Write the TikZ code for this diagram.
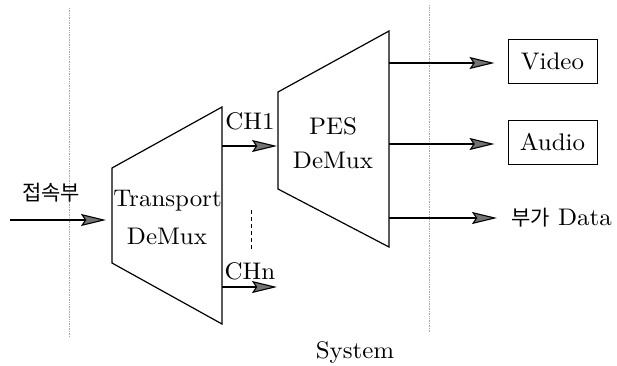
\documentclass[tikz,border=0pt]{standalone}
\usepackage{fontspec}
\setmainfont{lmroman10-regular.otf}[FakeStretch=1.04]
\newfontfamily\kr{Noto Sans CJK KR}
\usetikzlibrary{arrows.meta}
\tikzset{
  conn/.style={line width=1.1pt,-{Stealth[length=25pt,width=12pt,inset=4pt,fill=black!55]}},
  block/.style={line width=1.2pt,line join=miter},
  guide/.style={line width=0.7pt,black!35,densely dotted},
  lbl/.style={font=\fontsize{24}{28}\selectfont,inner sep=0pt},
  klbl/.style={font=\kr\fontsize{21}{25}\selectfont,inner sep=0pt},
  outbox/.style={draw,line width=1pt,minimum width=89pt,minimum height=44pt,inner sep=0pt,font=\fontsize{24}{28}\selectfont}
}
\begin{document}
\begin{tikzpicture}[x=1pt,y=-1pt]
\useasboundingbox (0,0) rectangle (617,365);
% guide lines
\draw[guide] (69,8) -- (69,337);
\draw[guide] (429,5) -- (429,333);
% Transport DeMux
\coordinate (t1) at (112,168);
\coordinate (t2) at (222,107);
\coordinate (t3) at (222,324);
\coordinate (t4) at (112,263);
\draw[block] (t1) -- (t2) -- (t3) -- (t4) -- cycle;
\node[lbl] (tr) at (167.5,201) {Transport};
\node[lbl] (trd) at (167,236) {DeMux};
% PES DeMux
\coordinate (p1) at (278,92);
\coordinate (p2) at (389,31);
\coordinate (p3) at (389,247);
\coordinate (p4) at (278,189);
\draw[block] (p1) -- (p2) -- (p3) -- (p4) -- cycle;
\node[lbl] (pes) at (333,126) {PES};
\node[lbl] (pesd) at (333,160) {DeMux};
% input
\coordinate (in) at (10,220);
\coordinate (tin) at (106,220);
\draw[conn] (in) -- (tin);
\node[klbl] (jeop) at (51,193) {접속부};
% channels
\coordinate (c1s) at (222,146);
\coordinate (c1e) at (277,146);
\draw[conn] (c1s) -- (c1e);
\node[lbl] (ch1) at (250,121) {CH1};
\coordinate (cns) at (222,287);
\coordinate (cne) at (277,287);
\draw[conn] (cns) -- (cne);
\node[lbl] (chn) at (250,271) {CHn};
\coordinate (d1) at (251,210);
\coordinate (d2) at (251,250);
\draw[line width=1pt,dash pattern=on 4pt off 3pt] (d1) -- (d2);
% outputs
\node[outbox] (video) at (552.5,61) {Video};
\node[outbox] (audio) at (552.5,142.5) {Audio};
\node[anchor=west,inner sep=0pt] (data) at (511,218) {{\kr\fontsize{21}{25}\selectfont 부가}\fontsize{24}{28}\selectfont\ Data};
\coordinate (o1) at (389,63);
\coordinate (o2) at (389,144);
\coordinate (o3) at (389,218);
\draw[conn] (o1) -- ([xshift=-13pt]video.west |- o1);
\draw[conn] (o2) -- ([xshift=-13pt]audio.west |- o2);
\draw[conn] (o3) -- ([xshift=-14pt]data.west);
% caption
\node[lbl] (sys) at (355,352) {System};
\end{tikzpicture}
\end{document}
